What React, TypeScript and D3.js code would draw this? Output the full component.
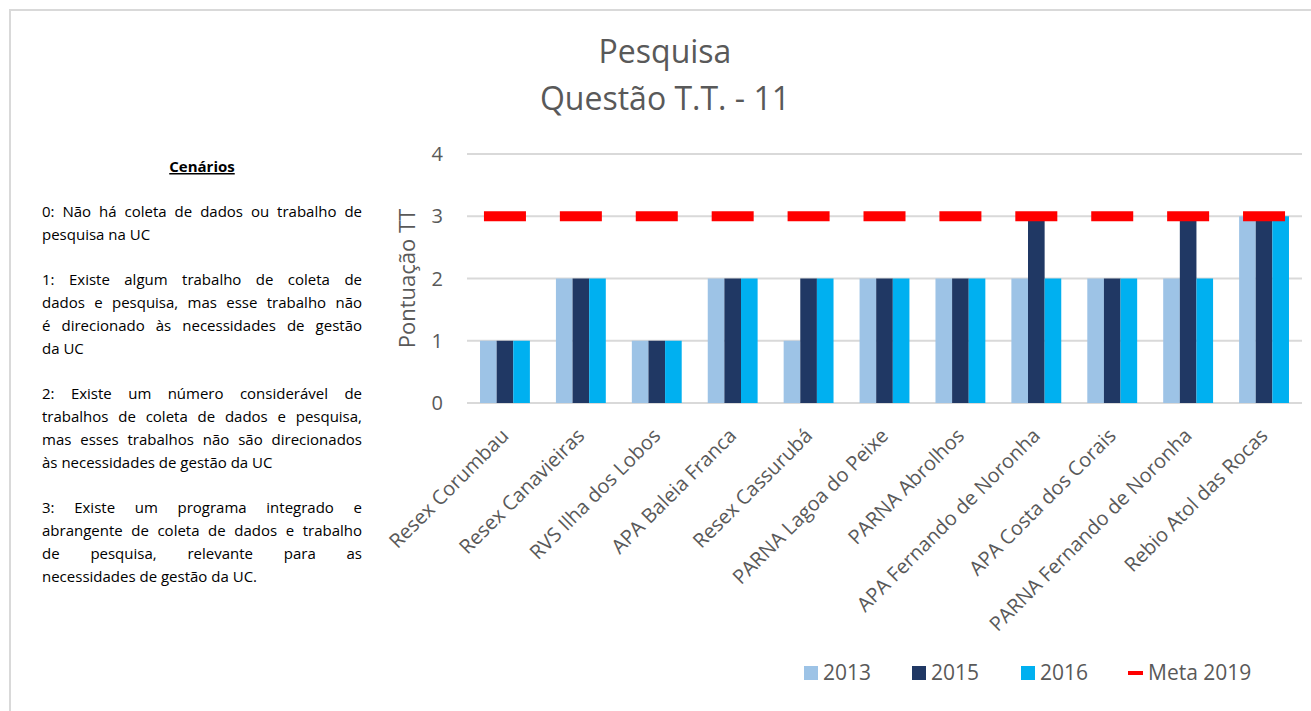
import React, { useEffect, useRef } from "react";
import * as d3 from "d3";

// chart data
const categories = [
  "Resex Corumbau",
  "Resex Canavieiras",
  "RVS Ilha dos Lobos",
  "APA Baleia Franca",
  "Resex Cassurubá",
  "PARNA Lagoa do Peixe",
  "PARNA Abrolhos",
  "APA Fernando de Noronha",
  "APA Costa dos Corais",
  "PARNA Fernando de Noronha",
  "Rebio Atol das Rocas",
];
const years = ["2013", "2015", "2016"];
const values2013 = [1, 2, 1, 2, 1, 2, 2, 2, 2, 2, 3];
const values2015 = [1, 2, 1, 2, 2, 2, 2, 3, 2, 3, 3];
const values2016 = [1, 2, 1, 2, 2, 2, 2, 2, 2, 2, 3];
const meta2019 = [3, 3, 3, 3, 3, 3, 3, 3, 3, 3, 3];
const yTicks = [0, 1, 2, 3, 4];
const colors = ["#9DC3E6", "#203864", "#00B0F0"];
const metaColor = "#FF0000";

const titleLines = ["Pesquisa", "Questão T.T. - 11"];
const yTitle = "Pontuação TT";

// left side text box (lines as in the picture, justified)
const panelTitle = "Cenários";
const paragraphs = [
  ["0: Não há coleta de dados ou trabalho de", "pesquisa na UC"],
  [
    "1: Existe algum trabalho de coleta de",
    "dados e pesquisa, mas esse trabalho não",
    "é direcionado às necessidades de gestão",
    "da UC",
  ],
  [
    "2: Existe um número considerável de",
    "trabalhos de coleta de dados e pesquisa,",
    "mas esses trabalhos não são direcionados",
    "às necessidades de gestão da UC",
  ],
  [
    "3: Existe um programa integrado e",
    "abrangente de coleta de dados e trabalho",
    "de pesquisa, relevante para as",
    "necessidades de gestão da UC.",
  ],
];

const W = 1311, H = 711;
const FONT = "'Open Sans', 'DejaVu Sans', sans-serif";
const TEXT = "#595959";

export default function App() {
  const panelRef = useRef<SVGGElement>(null);

  const x = d3.scaleBand().domain(categories).range([467, 1302]).paddingInner(0.343).paddingOuter(0.1715);
  const xs = d3.scaleBand().domain(years).range([0, x.bandwidth()]);
  const y = d3.scaleLinear().domain([0, 4]).range([403, 154]);
  const series = [values2013, values2015, values2016];

  // flatten lines of the text box
  const panelLines: { text: string; justify: boolean; row: number }[] = [];
  let row = 0;
  paragraphs.forEach((p) => {
    p.forEach((t, i) => {
      panelLines.push({ text: t, justify: i < p.length - 1, row });
      row++;
    });
    row++;
  });

  useEffect(() => {
    document.body.style.margin = "0";
    const boxW = 320;
    d3.select(panelRef.current)
      .selectAll<SVGTextElement, unknown>("text.line")
      .each(function () {
        const el = this;
        const justify = el.getAttribute("data-justify") === "1";
        const len = el.getComputedTextLength();
        if (len > boxW) {
          el.setAttribute("textLength", String(boxW));
          el.setAttribute("lengthAdjust", "spacingAndGlyphs");
          return;
        }
        if (!justify) return;
        const spaces = (el.textContent || "").split(" ").length - 1;
        if (spaces > 0) el.setAttribute("word-spacing", String((boxW - len) / spaces));
      });
  }, []);

  const metaLine = d3.line<[number, number]>().x((d) => d[0]).y((d) => d[1]);

  return (
    <svg width={W} height={H} style={{ display: "block", background: "#fff" }} fontFamily={FONT}>
      <rect x={10} y={10} width={W + 20} height={H + 20} fill="#fff" stroke="#D9D9D9" strokeWidth={2} />

      {/* title */}
      {titleLines.map((t, i) => (
        <text key={t} x={665} y={63 + i * 47} textAnchor="middle" fontSize={32} fill={TEXT}>
          {t}
        </text>
      ))}

      {/* grid + y ticks */}
      {yTicks.map((t) => (
        <g key={t}>
          <line x1={467} x2={1302} y1={y(t)} y2={y(t)} stroke="#D9D9D9" strokeWidth={2} />
          <text x={443} y={y(t)} dy="0.35em" textAnchor="end" fontSize={20} fill={TEXT}>
            {t}
          </text>
        </g>
      ))}
      <text transform={`translate(415,${y(2)}) rotate(-90)`} textAnchor="middle" fontSize={22} fill={TEXT}>
        {yTitle}
      </text>

      {/* bars */}
      {categories.map((c, i) => (
        <g key={c} transform={`translate(${x(c)},0)`}>
          {series.map((s, j) => (
            <rect
              key={years[j]}
              x={xs(years[j])}
              y={y(s[i])}
              width={xs.bandwidth()}
              height={y(0) - y(s[i])}
              fill={colors[j]}
            />
          ))}
        </g>
      ))}

      {/* meta 2019 dashes */}
      {categories.map((c, i) => {
        const cx = (x(c) as number) + x.bandwidth() / 2;
        return (
          <path
            key={"m" + c}
            d={metaLine([
              [cx - 21, y(meta2019[i])],
              [cx + 21, y(meta2019[i])],
            ]) as string}
            stroke={metaColor}
            strokeWidth={10}
            fill="none"
          />
        );
      })}

      {/* x labels */}
      {categories.map((c) => {
        const cx = (x(c) as number) + x.bandwidth() / 2;
        return (
          <text
            key={"l" + c}
            transform={`translate(${cx + 5},${y(0) + 34}) rotate(-45)`}
            textAnchor="end"
            fontSize={20}
            fill={TEXT}
          >
            {c}
          </text>
        );
      })}

      {/* legend */}
      {years.map((yr, j) => {
        const lx = [804, 912, 1021][j];
        return (
          <g key={"lg" + yr}>
            <rect x={lx} y={666} width={14} height={14} fill={colors[j]} />
            <text x={lx + 19} y={673} dy="0.35em" fontSize={21} fill={TEXT}>
              {yr}
            </text>
          </g>
        );
      })}
      <line x1={1128} x2={1143} y1={673} y2={673} stroke={metaColor} strokeWidth={4} />
      <text x={1148} y={673} dy="0.35em" fontSize={21} fill={TEXT}>
        Meta 2019
      </text>

      {/* text box */}
      <g ref={panelRef}>
        <text x={202} y={172} textAnchor="middle" fontSize={15} fontWeight="bold" textDecoration="underline" fill="#000">
          {panelTitle}
        </text>
        {panelLines.map((l, i) => (
          <text
            key={i}
            className="line"
            data-justify={l.justify ? "1" : "0"}
            x={42}
            y={217 + l.row * 22.8}
            fontSize={15}
            fill="#000"
          >
            {l.text}
          </text>
        ))}
      </g>
    </svg>
  );
}
